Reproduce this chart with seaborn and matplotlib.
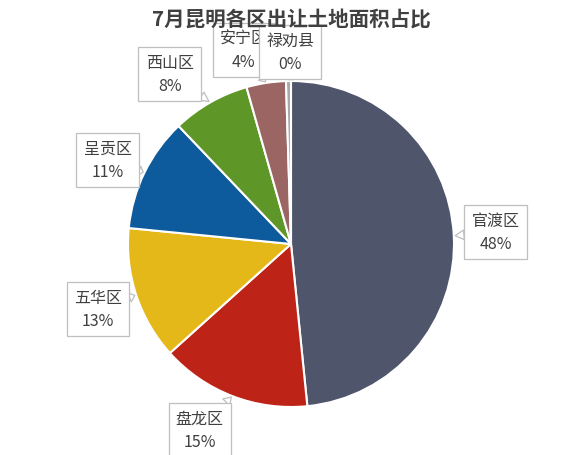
import numpy as np
import seaborn as sns
import matplotlib
matplotlib.use("Agg")
import matplotlib.pyplot as plt

districts = ["官渡区", "盘龙区", "五华区", "呈贡区", "西山区", "安宁区", "禄劝县"]
shares = [48.3, 14.9, 13.2, 11.3, 7.7, 3.9, 0.49]
colors = ["#4F566B", "#BE2317", "#E4B818", "#0D5A9C", "#5F9628", "#9A6562", "#A8A8A8"]
title = "7月昆明各区出让土地面积占比"

# label box centres, in pie radius units
label_xy = [(1.255, 0.075), (-0.56, -1.14), (-1.185, -0.40), (-1.125, 0.515),
            (-0.745, 1.045), (-0.29, 1.19), (-0.005, 1.18)]

sns.set_theme(style="white")
plt.rcParams["font.family"] = ["Noto Sans CJK SC", "DejaVu Sans"]

fig = plt.figure(figsize=(5.8, 4.56), dpi=100)
ax = fig.add_axes([128 / 580, 48 / 456, 326 / 580, 326 / 456])

wedges, _ = ax.pie(shares, colors=sns.color_palette(colors), startangle=90,
                   counterclock=False,
                   wedgeprops=dict(edgecolor="white", linewidth=1.5))
ax.set_xlim(-1, 1)
ax.set_ylim(-1, 1)
ax.axis("off")

total = sum(shares)
for w, name, val, pos in zip(wedges, districts, shares, label_xy):
    mid = np.deg2rad((w.theta1 + w.theta2) / 2)
    tip = (np.cos(mid), np.sin(mid))
    ax.annotate(f"{name}\n{val / total * 100:.0f}%", xy=tip, xytext=pos,
                ha="center", va="center", fontsize=11.5, color="#404040",
                linespacing=1.45, annotation_clip=False,
                bbox=dict(boxstyle="square,pad=0.45", fc="white", ec="#BFBFBF", lw=0.9),
                arrowprops=dict(arrowstyle="wedge,tail_width=0.6", fc="white",
                                ec="#BFBFBF", lw=0.9, shrinkA=0, shrinkB=1))

fig.text(0.502, 1 - 19 / 456, title, ha="center", va="center",
         fontsize=14.8, fontweight="bold", color="#404040")

fig.savefig("out.png", dpi=100)
